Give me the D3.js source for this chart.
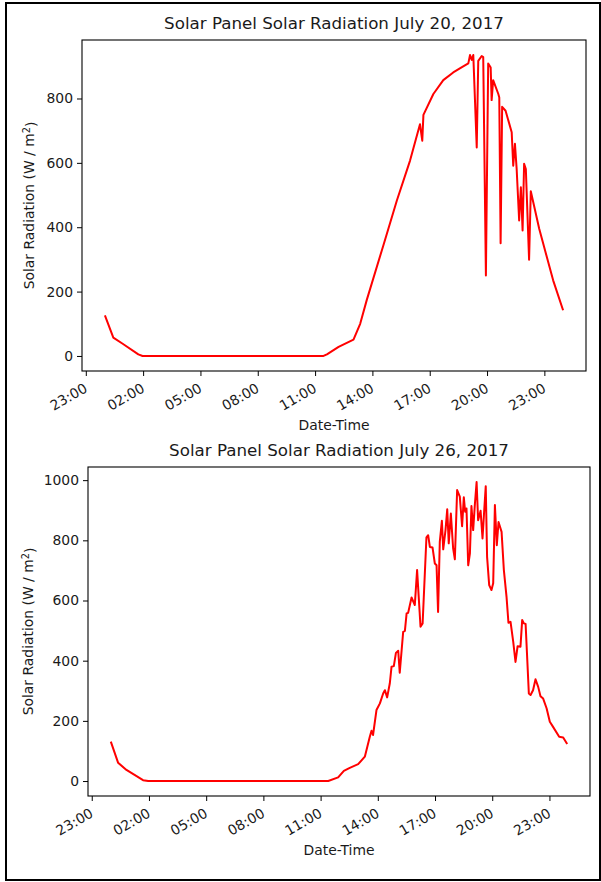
<!DOCTYPE html>
<html>
<head>
<meta charset="utf-8">
<script src="https://cdn.jsdelivr.net/npm/d3@7"></script>
<style>
body { margin: 0; background: #fff; }
text { font-family: "DejaVu Sans", sans-serif; fill: #1a1a1a; }
</style>
</head>
<body>
<svg id="chart" width="601" height="882"></svg>
<script>
// July 20 readings: hours after midnight and radiation (W/m2)
var hours20 = [0, 0.44, 0.93, 1.75, 1.97, 11.44, 11.62, 12.23, 13.01, 13.36,
  13.71, 14.58, 15.28, 15.97, 16.49, 16.61, 16.67, 17.19, 17.71, 18.23,
  18.62, 19.02, 19.11, 19.20, 19.28, 19.46, 19.54, 19.72, 19.80, 19.94,
  20.06, 20.19, 20.24, 20.32, 20.59, 20.64, 20.71, 20.79, 20.97, 21.29,
  21.37, 21.46, 21.55, 21.68, 21.77, 21.86, 21.94, 22.03, 22.20, 22.29,
  22.73, 23.46, 23.98];
var rad20 = [126, 57, 38, 5, 0, 0, 5, 28, 51, 100,
  175, 345, 483, 607, 720, 669, 749, 814, 857, 881,
  895, 909, 935, 920, 935, 648, 917, 932, 929, 250,
  909, 896, 795, 857, 814, 803, 350, 774, 762, 695,
  591, 659, 581, 421, 524, 390, 597, 581, 299, 512,
  395, 235, 142];

// July 26 readings
var hours26 = [0, 0.38, 0.82, 1.69, 1.96, 11.40, 11.92, 12.22, 12.53, 12.97,
  13.32, 13.58, 13.67, 13.75, 13.93, 14.11, 14.28, 14.37, 14.49, 14.63,
  14.72, 14.84, 14.95, 15.07, 15.15, 15.33, 15.42, 15.51, 15.59, 15.77,
  15.94, 16.06, 16.24, 16.35, 16.55, 16.64, 16.73, 16.87, 16.99, 17.08,
  17.16, 17.25, 17.36, 17.43, 17.55, 17.64, 17.72, 17.83, 17.95, 18.04,
  18.16, 18.30, 18.42, 18.51, 18.58, 18.65, 18.74, 18.83, 18.91, 19.00,
  19.09, 19.18, 19.26, 19.39, 19.49, 19.58, 19.66, 19.73, 19.84, 19.96,
  20.05, 20.14, 20.24, 20.33, 20.49, 20.61, 20.75, 20.85, 20.96, 21.10,
  21.22, 21.33, 21.48, 21.57, 21.66, 21.75, 21.92, 22.01, 22.14, 22.27,
  22.41, 22.53, 22.67, 22.85, 23.02, 23.19, 23.51, 23.72, 23.93];
var rad26 = [131, 61, 37, 3, 0, 0, 12, 34, 44, 56,
  81, 147, 167, 153, 236, 258, 291, 302, 278, 325,
  380, 382, 426, 433, 360, 496, 499, 557, 559, 610,
  585, 701, 513, 524, 810, 817, 778, 776, 723, 717,
  562, 795, 865, 770, 834, 903, 790, 889, 773, 737,
  967, 945, 847, 943, 895, 906, 717, 757, 914, 834,
  920, 994, 867, 898, 806, 900, 980, 745, 651, 635,
  657, 917, 784, 861, 828, 701, 612, 526, 529, 463,
  396, 448, 446, 535, 524, 522, 291, 286, 302, 338,
  313, 282, 274, 242, 197, 180, 147, 145, 123];

// tick labels
var xTickHours = [-1, 2, 5, 8, 11, 14, 17, 20, 23];
var yTicks20 = [0, 200, 400, 600, 800];
var yTicks26 = [0, 200, 400, 600, 800, 1000];

var svg = d3.select("#chart");

// outer frame round the figure
svg.append("rect")
  .attr("x", 6).attr("y", 3)
  .attr("width", 594).attr("height", 877)
  .attr("fill", "none")
  .attr("stroke", "#000")
  .attr("stroke-width", 2);

function drawPanel(p) {
  var base = new Date(2017, 6, p.day, 0, 0, 0);
  var toDate = function (h) { return new Date(base.getTime() + h * 3600e3); };
  var data = p.hours.map(function (h, i) { return { t: toDate(h), v: p.values[i] }; });

  // matplotlib style 5% margins
  var hExt = d3.extent(p.hours), vExt = d3.extent(p.values);
  var hPad = (hExt[1] - hExt[0]) * 0.05, vPad = (vExt[1] - vExt[0]) * 0.05;

  var x = d3.scaleTime()
    .domain([toDate(hExt[0] - hPad), toDate(hExt[1] + hPad)])
    .range([p.left, p.right]);
  var y = d3.scaleLinear()
    .domain([vExt[0] - vPad, vExt[1] + vPad])
    .range([p.bottom, p.top]);

  var g = svg.append("g");

  // x axis
  var xAxis = d3.axisBottom(x)
    .tickValues(xTickHours.map(toDate))
    .tickFormat(d3.timeFormat("%H:%M"))
    .tickSize(5).tickPadding(4);
  var gx = g.append("g")
    .attr("transform", "translate(0," + p.bottom + ")")
    .call(xAxis);
  gx.select(".domain").remove();
  gx.selectAll(".tick line").attr("stroke", "#000").attr("stroke-width", 1);
  gx.selectAll(".tick text")
    .attr("y", 0).attr("dy", 0)
    .attr("text-anchor", "end")
    .attr("transform", "translate(2,20) rotate(-30)")
    .style("font-size", "13.9px");

  // y axis
  var yAxis = d3.axisLeft(y)
    .tickValues(p.yTicks)
    .tickFormat(d3.format("d"))
    .tickSize(5).tickPadding(4);
  var gy = g.append("g")
    .attr("transform", "translate(" + p.left + ",0)")
    .call(yAxis);
  gy.select(".domain").remove();
  gy.selectAll(".tick line").attr("stroke", "#000").attr("stroke-width", 1);
  gy.selectAll(".tick text").style("font-size", "13.9px");

  // radiation line
  g.append("path")
    .datum(data)
    .attr("fill", "none")
    .attr("stroke", "#ff0000")
    .attr("stroke-width", 2)
    .attr("stroke-linejoin", "round")
    .attr("d", d3.line().x(function (d) { return x(d.t); }).y(function (d) { return y(d.v); }));

  // axes box
  g.append("rect")
    .attr("x", p.left).attr("y", p.top)
    .attr("width", p.right - p.left).attr("height", p.bottom - p.top)
    .attr("fill", "none").attr("stroke", "#000").attr("stroke-width", 1.1);

  // title and labels
  g.append("text")
    .attr("x", (p.left + p.right) / 2).attr("y", p.top - 11)
    .attr("text-anchor", "middle")
    .style("font-size", "16.7px")
    .text(p.title);

  g.append("text")
    .attr("x", (p.left + p.right) / 2).attr("y", p.bottom + 59)
    .attr("text-anchor", "middle")
    .style("font-size", "13.9px")
    .text("Date-Time");

  var yl = g.append("text")
    .attr("transform", "translate(" + p.ylabelX + "," + (p.top + p.bottom) / 2 + ") rotate(-90)")
    .attr("text-anchor", "middle")
    .attr("dy", "0.35em")
    .style("font-size", "13.9px");
  yl.append("tspan").text("Solar Radiation (W / m");
  yl.append("tspan").attr("dy", "-0.45em").style("font-size", "9.7px").text("2");
  yl.append("tspan").attr("dy", "0.45em").text(")");
}

drawPanel({
  day: 20, hours: hours20, values: rad20, yTicks: yTicks20,
  title: "Solar Panel Solar Radiation July 20, 2017",
  left: 82, right: 586, top: 40, bottom: 371, ylabelX: 29
});

drawPanel({
  day: 26, hours: hours26, values: rad26, yTicks: yTicks26,
  title: "Solar Panel Solar Radiation July 26, 2017",
  left: 88, right: 590, top: 467, bottom: 796, ylabelX: 28
});
</script>
</body>
</html>
